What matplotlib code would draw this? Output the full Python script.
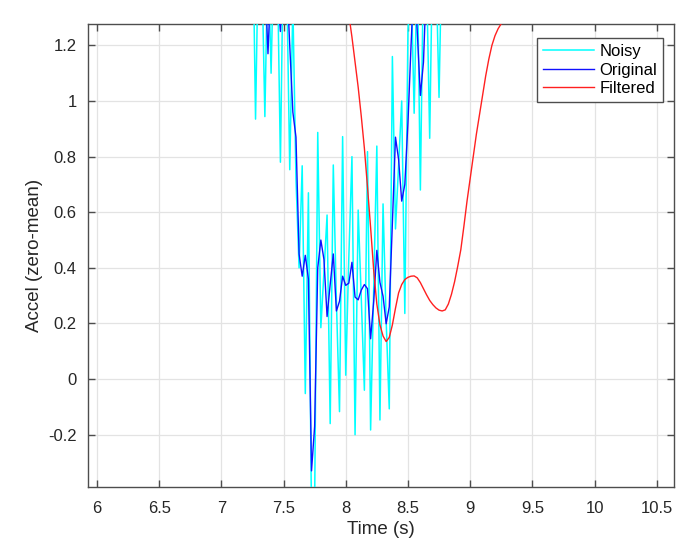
import numpy as np
import matplotlib
matplotlib.use("Agg")
import matplotlib.pyplot as plt
from matplotlib.ticker import FixedLocator, FuncFormatter

plt.rcParams['font.family'] = ['Liberation Sans', 'DejaVu Sans']
plt.rcParams['axes.unicode_minus'] = False

# ---- data (sampled at 40 Hz) ----
sig_start = 7.2
sig_dt = 0.025
noisy = [1.6, 1.5, 1.7, 0.935, 1.6, 1.5, 0.944, 1.55, 1.10, 1.6,
         1.5, 0.78, 1.6, 1.45, 0.753, 1.35, 0.72, 0.40, 0.767, -0.052,
         0.67, -0.50, -0.45, 0.887, 0.185, 0.385, 0.59, -0.16, 0.77, 0.28,
         -0.117, 0.872, 0.014, 0.44, 0.80, -0.20, 0.608, 0.29, -0.04, 0.818,
         -0.183, 0.33, 0.838, -0.147, 0.63, 0.21, -0.107, 1.16, 0.54, 0.77,
         1.00, 0.236, 1.25, 1.45, 0.956, 1.5, 0.68, 1.5, 1.45, 0.866,
         1.6, 1.5, 1.013, 1.6, 1.5]
original = [1.6, 1.7, 1.6, 1.5, 1.6, 1.55, 1.45, 1.17, 1.45, 1.5,
            1.4, 1.25, 1.5, 1.45, 1.2, 0.96, 0.87, 0.45, 0.37, 0.445,
            0.36, -0.33, -0.17, 0.40, 0.50, 0.43, 0.225, 0.34, 0.45, 0.245,
            0.28, 0.37, 0.337, 0.345, 0.42, 0.295, 0.285, 0.32, 0.34, 0.325,
            0.145, 0.28, 0.463, 0.348, 0.298, 0.199, 0.26, 0.56, 0.87, 0.79,
            0.64, 0.70, 0.92, 1.2, 1.45, 1.25, 1.02, 1.14, 1.45, 1.6,
            1.5, 1.6, 1.7, 1.6, 1.5]
filt_start = 8.0
filtered = [1.40, 1.31, 1.23, 1.14, 1.05, 0.945, 0.83, 0.69, 0.545, 0.39,
            0.27, 0.195, 0.155, 0.135, 0.15, 0.195, 0.255, 0.31, 0.34, 0.358,
            0.366, 0.37, 0.371, 0.364, 0.347, 0.325, 0.303, 0.283, 0.268, 0.256,
            0.248, 0.245, 0.249, 0.27, 0.305, 0.35, 0.405, 0.465, 0.55, 0.64,
            0.72, 0.80, 0.88, 0.95, 1.02, 1.09, 1.15, 1.20, 1.235, 1.26,
            1.278, 1.29, 1.30]
series_labels = ['Noisy', 'Original', 'Filtered']
x_ticks = [6, 6.5, 7, 7.5, 8, 8.5, 9, 9.5, 10, 10.5]
y_ticks = [-0.2, 0, 0.2, 0.4, 0.6, 0.8, 1, 1.2]

t_sig = sig_start + sig_dt * np.arange(len(noisy))
t_filt = filt_start + sig_dt * np.arange(len(filtered))

fig = plt.figure(figsize=(6.9, 5.44), dpi=100)
ax = fig.add_axes([0.1275, 0.1048, 0.8497, 0.8511])

ax.plot(t_sig, noisy, color='#00FFFF', lw=1.1, label=series_labels[0], zorder=3)
ax.plot(t_sig, original, color='#1010FF', lw=1.0, label=series_labels[1], zorder=4)
ax.plot(t_filt, filtered, color='#FF2020', lw=1.0, label=series_labels[2], zorder=5)

ax.set_xlim(5.928, 10.641)
ax.set_ylim(-0.388, 1.277)
ax.xaxis.set_major_locator(FixedLocator(x_ticks))
ax.yaxis.set_major_locator(FixedLocator(y_ticks))
fmt = FuncFormatter(lambda v, p: ('%g' % round(v, 3)))
ax.xaxis.set_major_formatter(fmt)
ax.yaxis.set_major_formatter(fmt)

ax.grid(True, color='#e3e3e3', lw=0.9, zorder=0)
ax.set_axisbelow(True)
for s in ax.spines.values():
    s.set_color('#4d4d4d')
    s.set_linewidth(1.0)
ax.tick_params(direction='in', length=5, width=1.0, color='#4d4d4d',
               labelsize=12, labelcolor='#262626', top=True, right=True)
ax.tick_params(axis='x', pad=10)
ax.tick_params(axis='y', pad=8)

ax.set_xlabel('Time (s)', fontsize=13.5, color='#262626', labelpad=4)
ax.set_ylabel('Accel (zero-mean)', fontsize=13.5, color='#262626', labelpad=4)

leg = ax.legend(loc='upper right', bbox_to_anchor=(0.9812, 0.969),
                borderaxespad=0, fontsize=12, handlelength=3.05,
                handletextpad=0.35, labelspacing=0.2, borderpad=0.35,
                fancybox=False, framealpha=1, edgecolor='#4d4d4d')
leg.get_frame().set_linewidth(1.0)

fig.savefig('out.png', dpi=100)
